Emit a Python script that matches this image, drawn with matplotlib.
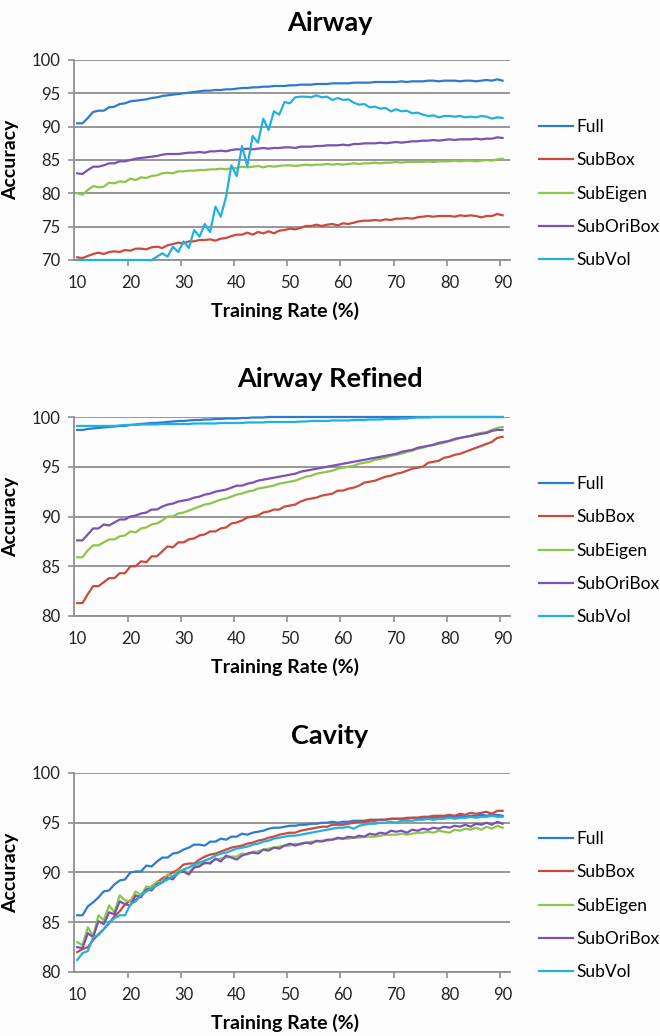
import matplotlib
matplotlib.use("Agg")
import matplotlib.pyplot as plt

plt.rcParams['font.family'] = ['Lato', 'DejaVu Sans']

train_rate = list(range(10, 91))
series_names = ["Full", "SubBox", "SubEigen", "SubOriBox", "SubVol"]
series_colors = ["#2d7bd0", "#cc4a3c", "#8fc44a", "#7a52b5", "#22b0dd"]

# Airway
airway_full = [
    90.5, 90.5, 91.3, 92.2, 92.4, 92.4, 92.9, 93.0, 93.4, 93.5,
    93.8, 93.9, 94.0, 94.1, 94.3, 94.4, 94.6, 94.7, 94.8, 94.9,
    95.0, 95.1, 95.2, 95.3, 95.4, 95.4, 95.5, 95.5, 95.6, 95.6,
    95.7, 95.8, 95.8, 95.9, 95.9, 96.0, 96.0, 96.1, 96.1, 96.1,
    96.2, 96.2, 96.3, 96.3, 96.3, 96.4, 96.4, 96.4, 96.5, 96.5,
    96.5, 96.5, 96.6, 96.6, 96.6, 96.6, 96.7, 96.7, 96.7, 96.7,
    96.7, 96.8, 96.7, 96.8, 96.8, 96.8, 96.9, 96.9, 96.8, 96.9,
    96.9, 96.9, 96.8, 96.9, 96.9, 96.8, 96.9, 97.0, 96.9, 97.1,
    96.9]
airway_subbox = [
    70.4, 70.3, 70.6, 70.9, 71.1, 70.9, 71.2, 71.3, 71.2, 71.5,
    71.4, 71.7, 71.7, 71.6, 71.9, 72.0, 71.8, 72.2, 72.4, 72.6,
    72.5, 72.8, 72.8, 73.0, 73.0, 73.1, 72.9, 73.2, 73.3, 73.6,
    73.8, 73.8, 74.1, 73.8, 74.2, 74.0, 74.3, 74.0, 74.4, 74.5,
    74.7, 74.6, 74.8, 75.1, 75.1, 75.3, 75.1, 75.3, 75.4, 75.2,
    75.5, 75.4, 75.6, 75.8, 75.9, 75.9, 76.0, 75.9, 76.1, 76.0,
    76.2, 76.2, 76.3, 76.2, 76.4, 76.5, 76.6, 76.5, 76.6, 76.6,
    76.6, 76.5, 76.7, 76.6, 76.7, 76.6, 76.4, 76.6, 76.6, 76.9,
    76.7]
airway_subeigen = [
    80.0, 79.8, 80.5, 81.1, 80.9, 81.0, 81.6, 81.5, 81.8, 81.7,
    82.2, 82.0, 82.4, 82.3, 82.6, 82.7, 83.0, 83.1, 83.0, 83.3,
    83.3, 83.4, 83.4, 83.5, 83.5, 83.6, 83.6, 83.7, 83.6, 83.8,
    83.8, 84.0, 83.9, 84.0, 84.1, 83.9, 84.1, 84.0, 84.1, 84.2,
    84.2, 84.1, 84.2, 84.3, 84.2, 84.3, 84.3, 84.4, 84.3, 84.4,
    84.3, 84.4, 84.5, 84.4, 84.5, 84.5, 84.6, 84.5, 84.6, 84.6,
    84.7, 84.6, 84.7, 84.7, 84.7, 84.7, 84.8, 84.7, 84.8, 84.8,
    84.8, 84.9, 84.8, 84.9, 84.9, 84.8, 84.9, 85.0, 84.9, 85.1,
    85.2]
airway_suboribox = [
    83.0, 82.9, 83.5, 84.0, 84.0, 84.2, 84.5, 84.5, 84.8, 84.8,
    85.0, 85.2, 85.3, 85.4, 85.5, 85.6, 85.8, 85.9, 85.9, 85.9,
    86.0, 86.1, 86.1, 86.2, 86.1, 86.3, 86.3, 86.4, 86.3, 86.5,
    86.6, 86.6, 86.7, 86.6, 86.7, 86.8, 86.7, 86.8, 86.8, 86.9,
    86.9, 86.8, 87.0, 87.0, 87.0, 87.1, 87.1, 87.2, 87.2, 87.2,
    87.3, 87.2, 87.4, 87.4, 87.5, 87.5, 87.5, 87.6, 87.5, 87.6,
    87.7, 87.6, 87.7, 87.8, 87.8, 87.9, 87.9, 88.0, 87.9, 88.0,
    88.1, 88.0, 88.1, 88.1, 88.1, 88.2, 88.1, 88.2, 88.2, 88.4,
    88.3]
airway_subvol = [
    70.0, 70.0, 70.0, 70.0, 70.0, 70.0, 70.0, 70.0, 70.0, 70.0,
    70.0, 70.0, 70.0, 70.0, 70.0, 70.5, 71.0, 70.5, 72.0, 71.2,
    72.8, 71.8, 74.5, 73.5, 75.4, 74.2, 78.0, 76.5, 79.5, 84.2,
    82.6, 87.1, 84.1, 88.6, 87.6, 91.2, 89.5, 92.3, 91.8, 93.7,
    93.5, 94.4, 94.5, 94.5, 94.4, 94.7, 94.4, 94.5, 94.0, 94.3,
    94.0, 94.1, 93.6, 93.3, 93.4, 92.9, 93.0, 92.7, 92.8, 92.3,
    92.6, 92.3, 92.4, 92.0, 92.1, 91.8, 91.6, 91.7, 91.4, 91.6,
    91.6, 91.5, 91.6, 91.4, 91.5, 91.4, 91.6, 91.5, 91.2, 91.4,
    91.3]

# Airway Refined
refined_full = [
    98.7, 98.7, 98.8, 98.85, 98.9, 98.95, 99.0, 99.05, 99.1, 99.1,
    99.2, 99.25, 99.3, 99.35, 99.4, 99.4, 99.45, 99.5, 99.55, 99.6,
    99.6, 99.65, 99.7, 99.7, 99.75, 99.75, 99.8, 99.8, 99.85, 99.85,
    99.85, 99.9, 99.9, 99.95, 99.95, 99.95, 100, 100, 100, 100,
    100, 100, 100, 100, 100, 100, 100, 100, 100, 100,
    100, 100, 100, 100, 100, 100, 100, 100, 100, 100,
    100, 100, 100, 100, 100, 100, 100, 100, 100, 100,
    100, 100, 100, 100, 100, 100, 100, 100, 100, 100,
    100]
refined_subbox = [
    81.3, 81.3, 82.2, 83.0, 83.0, 83.4, 83.8, 83.8, 84.3, 84.3,
    85.0, 85.0, 85.5, 85.4, 86.0, 86.0, 86.5, 87.0, 86.9, 87.4,
    87.4, 87.7, 87.8, 88.1, 88.2, 88.5, 88.5, 88.8, 88.9, 89.3,
    89.4, 89.6, 89.9, 90.0, 90.1, 90.4, 90.5, 90.7, 90.7, 91.0,
    91.1, 91.2, 91.5, 91.7, 91.8, 91.9, 92.1, 92.2, 92.3, 92.6,
    92.6, 92.8, 92.9, 93.1, 93.4, 93.5, 93.6, 93.8, 94.0, 94.1,
    94.3, 94.4, 94.6, 94.8, 94.9, 95.0, 95.4, 95.5, 95.6, 95.9,
    96.0, 96.2, 96.3, 96.5, 96.7, 96.9, 97.1, 97.3, 97.5, 97.9,
    98.0]
refined_subeigen = [
    85.9, 85.9, 86.6, 87.1, 87.1, 87.4, 87.7, 87.7, 88.0, 88.1,
    88.5, 88.4, 88.8, 88.9, 89.2, 89.3, 89.6, 90.0, 90.0, 90.3,
    90.4, 90.6, 90.8, 91.0, 91.2, 91.3, 91.5, 91.7, 91.8, 92.0,
    92.2, 92.3, 92.5, 92.6, 92.8, 92.9, 93.0, 93.1, 93.3, 93.4,
    93.5, 93.6, 93.8, 94.0, 94.1, 94.3, 94.4, 94.5, 94.6, 94.8,
    94.9, 95.0, 95.1, 95.3, 95.4, 95.5, 95.7, 95.8, 95.9, 96.1,
    96.2, 96.3, 96.5, 96.6, 96.8, 96.9, 97.1, 97.2, 97.3, 97.4,
    97.6, 97.7, 97.9, 98.0, 98.1, 98.3, 98.4, 98.5, 98.7, 98.9,
    99.0]
refined_suboribox = [
    87.6, 87.6, 88.2, 88.8, 88.8, 89.2, 89.1, 89.4, 89.7, 89.7,
    90.0, 90.1, 90.3, 90.4, 90.7, 90.7, 91.0, 91.2, 91.3, 91.5,
    91.6, 91.7, 91.9, 92.0, 92.2, 92.3, 92.5, 92.6, 92.7, 92.9,
    93.1, 93.1, 93.3, 93.4, 93.6, 93.7, 93.8, 93.9, 94.0, 94.1,
    94.2, 94.3, 94.5, 94.6, 94.7, 94.8, 94.9, 95.0, 95.1, 95.2,
    95.3, 95.4, 95.5, 95.6, 95.7, 95.8, 95.9, 96.0, 96.1, 96.2,
    96.3, 96.5, 96.6, 96.7, 96.9, 97.0, 97.1, 97.2, 97.4, 97.5,
    97.6, 97.8, 97.9, 98.0, 98.1, 98.2, 98.3, 98.4, 98.6, 98.7,
    98.7]
refined_subvol = [
    99.1, 99.1, 99.1, 99.1, 99.1, 99.1, 99.1, 99.1, 99.15, 99.2,
    99.2, 99.2, 99.25, 99.25, 99.25, 99.25, 99.3, 99.3, 99.3, 99.3,
    99.3, 99.3, 99.35, 99.35, 99.35, 99.35, 99.35, 99.4, 99.4, 99.4,
    99.4, 99.4, 99.45, 99.45, 99.45, 99.45, 99.5, 99.5, 99.5, 99.5,
    99.5, 99.5, 99.55, 99.55, 99.6, 99.6, 99.6, 99.6, 99.65, 99.65,
    99.65, 99.65, 99.7, 99.7, 99.7, 99.75, 99.75, 99.75, 99.8, 99.8,
    99.8, 99.85, 99.85, 99.9, 99.95, 99.95, 99.95, 100, 100, 100,
    100, 100, 100, 100, 100, 100, 100, 100, 100, 100,
    100]

# Cavity
cavity_full = [
    85.7, 85.7, 86.6, 87.0, 87.5, 88.1, 88.2, 88.8, 89.2, 89.3,
    90.0, 90.1, 90.1, 90.7, 90.6, 91.1, 91.5, 91.5, 91.9, 92.0,
    92.3, 92.5, 92.8, 92.8, 92.7, 93.1, 93.1, 93.4, 93.3, 93.6,
    93.6, 93.9, 93.8, 94.0, 94.1, 94.2, 94.4, 94.5, 94.5, 94.6,
    94.7, 94.7, 94.8, 94.8, 94.9, 94.9, 95.0, 95.0, 95.1, 95.0,
    95.1, 95.1, 95.2, 95.2, 95.2, 95.3, 95.3, 95.3, 95.3, 95.4,
    95.4, 95.4, 95.4, 95.5, 95.5, 95.5, 95.5, 95.5, 95.6, 95.6,
    95.6, 95.6, 95.7, 95.6, 95.7, 95.7, 95.8, 95.7, 95.8, 95.8,
    95.7]
cavity_subbox = [
    82.0, 82.3, 82.5, 83.2, 83.8, 84.3, 84.9, 85.6, 86.1, 86.8,
    87.2, 87.2, 87.8, 88.2, 88.6, 89.0, 89.4, 89.7, 90.0, 90.3,
    90.8, 90.9, 90.9, 91.3, 91.6, 91.8, 91.9, 92.1, 92.3, 92.5,
    92.6, 92.7, 92.9, 93.0, 93.2, 93.3, 93.5, 93.6, 93.8, 93.9,
    94.0, 94.0, 94.2, 94.3, 94.4, 94.5, 94.6, 94.6, 94.8, 94.8,
    94.8, 94.9, 95.0, 95.1, 95.1, 95.2, 95.2, 95.3, 95.3, 95.4,
    95.4, 95.4, 95.5, 95.5, 95.5, 95.6, 95.6, 95.7, 95.7, 95.7,
    95.8, 95.7, 95.9, 95.8, 96.0, 95.9, 96.0, 96.1, 95.9, 96.2,
    96.2]
cavity_subeigen = [
    83.0, 82.7, 84.5, 83.6, 85.7, 85.2, 86.7, 86.0, 87.7, 87.2,
    87.1, 88.1, 87.7, 88.6, 88.5, 89.1, 89.0, 89.8, 89.6, 90.2,
    90.2, 90.0, 90.6, 90.8, 90.9, 91.0, 91.3, 91.4, 91.5, 91.6,
    91.6, 91.9, 91.8, 92.1, 92.1, 92.3, 92.4, 92.5, 92.6, 92.7,
    92.7, 92.9, 92.8, 93.0, 93.1, 93.1, 93.2, 93.2, 93.3, 93.4,
    93.4, 93.4, 93.5, 93.5, 93.6, 93.6, 93.6, 93.7, 93.8, 93.8,
    93.8, 93.9, 93.8, 93.9, 94.0, 94.0, 94.1, 94.0, 94.2, 94.1,
    94.0, 94.3, 94.2, 94.4, 94.3, 94.5, 94.3, 94.6, 94.4, 94.7,
    94.5]
cavity_suboribox = [
    82.5, 82.4, 83.9, 83.5, 85.1, 84.8, 86.0, 85.8, 87.1, 86.8,
    86.7, 87.7, 87.5, 88.3, 88.2, 88.8, 89.0, 89.5, 89.3, 90.0,
    90.1, 89.8, 90.5, 90.6, 91.0, 90.9, 91.4, 91.1, 91.7, 91.5,
    91.3, 91.7, 91.9, 92.0, 91.9, 92.3, 92.2, 92.5, 92.4, 92.7,
    92.9, 92.7, 92.9, 93.0, 92.9, 93.2, 93.1, 93.3, 93.3, 93.5,
    93.4, 93.6, 93.5, 93.7, 93.6, 93.9, 93.8, 94.0, 93.9, 94.2,
    94.1, 94.2, 94.0, 94.3, 94.2, 94.4, 94.3, 94.5, 94.4, 94.6,
    94.5, 94.7, 94.6, 94.8, 94.6, 94.9, 94.8, 95.0, 94.8, 95.1,
    94.9]
cavity_subvol = [
    81.2, 81.9, 82.1, 83.5, 83.7, 84.3, 85.0, 85.4, 85.7, 85.7,
    86.8, 87.1, 87.7, 88.1, 88.4, 88.7, 89.0, 89.3, 89.6, 89.9,
    90.3, 90.5, 90.8, 91.0, 91.2, 91.4, 91.7, 91.9, 92.0, 92.2,
    92.4, 92.5, 92.6, 92.8, 92.9, 93.1, 93.2, 93.4, 93.5, 93.6,
    93.7, 93.7, 93.8, 93.9, 94.0, 94.1, 94.2, 94.3, 94.4, 94.5,
    94.5, 94.6, 94.4, 94.7, 94.8, 94.9, 94.9, 95.0, 95.0, 95.1,
    95.0, 95.2, 95.2, 95.2, 95.3, 95.3, 95.4, 95.3, 95.4, 95.4,
    95.5, 95.4, 95.5, 95.5, 95.6, 95.5, 95.6, 95.6, 95.7, 95.6,
    95.6]

W, H = 660, 1036
GRID = "#8f8f8f"

fig = plt.figure(figsize=(W / 100, H / 100), dpi=100)
fig.patch.set_facecolor("#fdfdfe")


def draw_panel(title, title_base, top, bottom, ymin, ymax, data, legend_top):
    ax = fig.add_axes([74 / W, 1 - bottom / H, (510 - 74) / W, (bottom - top) / H])
    ax.set_facecolor("#fdfdfe")
    for name, vals, col in zip(series_names, data, series_colors):
        ax.plot(train_rate, vals, color=col, lw=1.6, label=name, clip_on=False, zorder=3)
    ax.set_xlim(9.4, 91.4)
    ax.set_ylim(ymin, ymax)
    ax.set_yticks(range(ymin, ymax + 1, 5))
    ax.yaxis.grid(True, color=GRID, lw=1.3)
    ax.set_axisbelow(True)
    ax.set_xticks(range(10, 91, 10))
    ax.set_xticks([19.5 + 10 * i for i in range(8)], minor=True)
    ax.tick_params(axis='x', which='major', length=0, pad=11, labelsize=12, labelcolor="#222222")
    ax.tick_params(axis='x', which='minor', length=4, width=1.2, color=GRID)
    ax.tick_params(axis='y', length=4, width=1.2, color=GRID, pad=6, labelsize=12, labelcolor="#222222")
    for s in ("top", "right"):
        ax.spines[s].set_visible(False)
    for s in ("left", "bottom"):
        ax.spines[s].set_color(GRID)
        ax.spines[s].set_linewidth(1.3)
    ax.set_ylabel("Accuracy", fontsize=14, fontweight='bold')
    ax.yaxis.set_label_coords((19 - 74) / 436, 0.5)
    ax.set_xlabel("Training Rate (%)", fontsize=14, fontweight='bold')
    ax.xaxis.set_label_coords((285 - 74) / 436, -0.212)
    fig.text(330 / W, 1 - title_base / H, title, ha='center', va='baseline',
             fontsize=19.5, fontweight='bold')
    ax.legend(loc='upper left', bbox_to_anchor=(539 / W, 1 - legend_top / H),
              bbox_transform=fig.transFigure, frameon=False, fontsize=12.5,
              handlelength=1.95, handletextpad=0.2, labelspacing=1.0,
              borderpad=0, borderaxespad=0)
    return ax


draw_panel("Airway", 31, 60, 260, 70, 100,
           [airway_full, airway_subbox, airway_subeigen, airway_suboribox, airway_subvol], 119)
draw_panel("Airway Refined", 387, 417, 616, 80, 100,
           [refined_full, refined_subbox, refined_subeigen, refined_suboribox, refined_subvol], 476)
draw_panel("Cavity", 744, 773, 972, 80, 100,
           [cavity_full, cavity_subbox, cavity_subeigen, cavity_suboribox, cavity_subvol], 831)

fig.savefig("out.png", dpi=100, facecolor=fig.get_facecolor())
